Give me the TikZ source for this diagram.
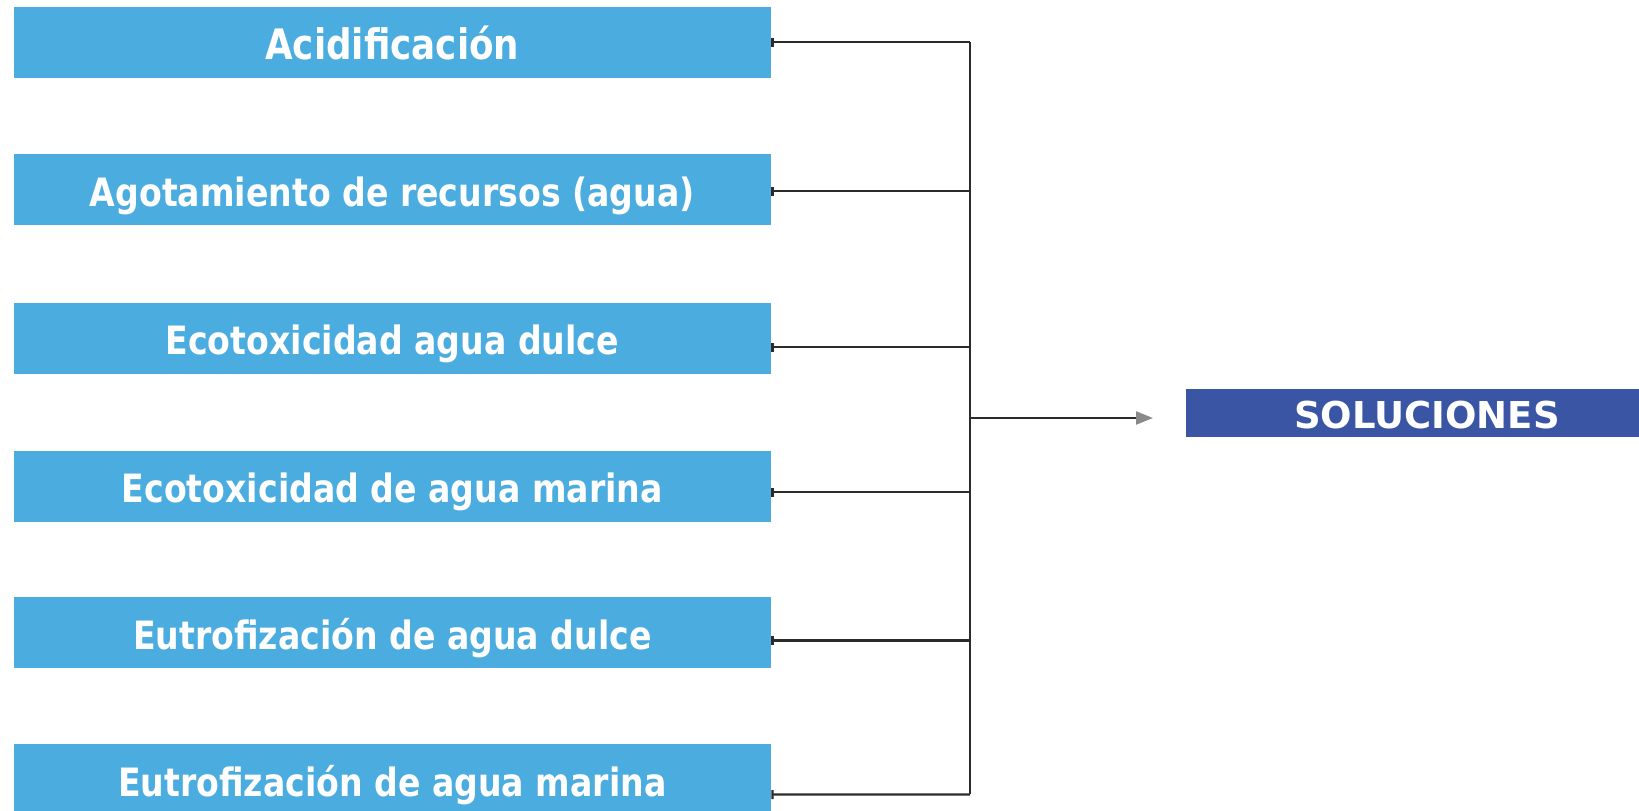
\documentclass[tikz,border=0pt]{standalone}
\usepackage{fontspec}
\setmainfont{DejaVu Sans}[FakeStretch=0.85]
\newfontfamily\solfont{DejaVu Sans}
\usetikzlibrary{arrows.meta}
\definecolor{boxblue}{HTML}{4BACE0}
\definecolor{solblue}{HTML}{3B55A5}
\definecolor{linegray}{HTML}{2B2B2B}
\definecolor{tipgray}{HTML}{8A8A8A}
\tikzset{
  catbox/.style={fill=boxblue, draw=none, minimum width=757.5pt, minimum height=71pt,
    inner sep=0pt, text=white, text height=33.7pt, text depth=0pt,
    font=\fontsize{39}{42}\selectfont\bfseries},
  solbox/.style={fill=solblue, draw=none, minimum width=453pt, minimum height=48pt,
    inner sep=0pt, text=white},
  conn/.style={draw=linegray, line width=2.3pt, {Bar[width=9pt,line width=2.3pt]}-},
  spine/.style={draw=linegray, line width=2.3pt},
  arr/.style={draw=linegray, line width=2.3pt, -{Triangle[length=17pt,width=13pt,color=tipgray]}}
}
\begin{document}
\begin{tikzpicture}[x=1pt,y=-1pt]
\useasboundingbox (0,0) rectangle (1639,811);
\node[catbox, font=\fontsize{42}{44}\selectfont\bfseries, text height=35pt] (a) at (392.3,42.3) {Acidificación};
\node[catbox] (b) at (392.3,189.2) {Agotamiento de recursos (agua)};
\node[catbox] (c) at (392.3,338) {Ecotoxicidad agua dulce};
\node[catbox] (d) at (392.3,486) {Ecotoxicidad de agua marina};
\node[catbox] (e) at (392.3,632.5) {Eutrofización de agua dulce};
\node[catbox] (f) at (392.3,779.5) {Eutrofización de agua marina};
\node[solbox] (s) at (1412.5,413) {};
\node[text=white, font=\solfont\fontsize{37}{40}\selectfont\bfseries, inner sep=0pt] (st) at (1427,415) {SOLUCIONES};
\coordinate (top) at (970,41.8);
\coordinate (bot) at (970,794.4);
\coordinate (j) at (970,418);
\coordinate (tip) at (1153,418);
\draw[spine] (top) -- (bot);
\draw[conn] (a.east) -- (a.east -| top);
\draw[conn] ([yshift=-2pt]b.east) -- ([yshift=-2pt]b.east -| top);
\draw[conn] ([yshift=-9pt]c.east) -- ([yshift=-9pt]c.east -| top);
\draw[conn] ([yshift=-6pt]d.east) -- ([yshift=-6pt]d.east -| top);
\draw[conn] ([yshift=-8pt]e.east) -- ([yshift=-8pt]e.east -| top);
\draw[conn] ([yshift=-15pt]f.east) -- (bot);
\draw[arr] (j) -- (tip);
\end{tikzpicture}
\end{document}
